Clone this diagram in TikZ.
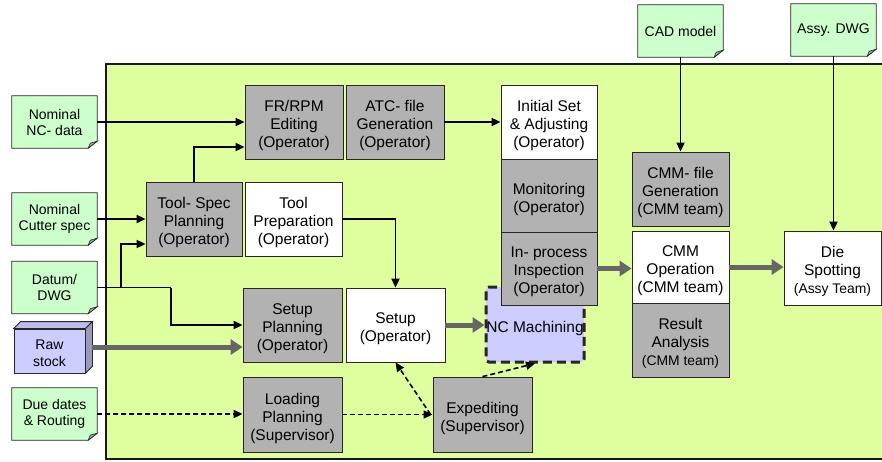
\documentclass[tikz,border=0pt]{standalone}
\usepackage{fontspec}
\setmainfont{Liberation Sans}
\usetikzlibrary{arrows.meta}

\definecolor{panel}{RGB}{223,255,159}
\definecolor{notegreen}{RGB}{204,255,204}
\definecolor{procgray}{RGB}{178,178,178}
\definecolor{lavender}{RGB}{204,204,255}
\definecolor{flowgray}{RGB}{102,102,102}

\newcommand\notefold[1]{%
  \draw[line width=0.8pt, draw=black!85, fill=notegreen]
    (#1.north west) -- (#1.north east) -- ([yshift=7pt]#1.south east)
    -- ([xshift=-9pt]#1.south east) -- (#1.south west) -- cycle;
  \draw[line width=0.6pt, draw=black!85, fill=notegreen!70!black]
    ([yshift=7pt]#1.south east) -- ([xshift=-7pt,yshift=5pt]#1.south east)
    -- ([xshift=-9pt]#1.south east) -- cycle;}

% a process box with its caption set slightly below the geometric centre
\newcommand\procnode[4][]{%
  \node[proc,#1] (#2) at #3 {};
  \node[proctext] (#2-text) at ([yshift=-3.5pt]#2.center) {#4};}

\tikzset{
  proc/.style={draw=black!85, line width=0.8pt, fill=procgray, inner sep=0pt,
    minimum width=97pt, minimum height=74pt},
  procw/.style={proc, fill=white},
  proctext/.style={inner sep=0pt, align=center,
    font=\fontsize{15.5}{18}\selectfont},
  notebox/.style={inner sep=0pt, align=center, minimum width=85pt,
    minimum height=52pt, font=\fontsize{14}{16}\selectfont},
  arr/.style={line width=1.8pt, -{Triangle[length=9pt,width=8pt]}},
  dasharr/.style={line width=1.6pt, dash pattern=on 5pt off 3pt,
    -{Triangle[length=9pt,width=8pt]}},
  bigarr/.style={line width=5pt, draw=flowgray,
    -{Triangle[length=12pt,width=15pt]}},
  conn/.style={line width=1.8pt},
}

\begin{document}
\begin{tikzpicture}[x=1pt,y=-1pt]
\useasboundingbox (0,0) rectangle (882,461);
\fill[white] (0,0) rectangle (882,461);

% working area
\draw[fill=panel, line width=1.2pt, draw=black!90] (106,64) rectangle (900,459);

% input documents
\node[notebox] (ncdata) at (54.5,122) {};
\node[notebox] (cutter) at (54.5,219) {};
\node[notebox] (datum) at (54.5,287.5) {};
\node[notebox] (due) at (54.5,414) {};
\node[notebox] (cad) at (680.5,31) {};
\node[notebox] (assy) at (833.5,30) {};
\notefold{ncdata}
\notefold{cutter}
\notefold{datum}
\notefold{due}
\notefold{cad}
\notefold{assy}
\node[notebox] (ncdatatext) at (ncdata) {Nominal\\NC- data};
\node[notebox] (cuttertext) at (cutter) {Nominal\\Cutter spec};
\node[notebox] (datumtext) at (datum) {Datum/\\DWG};
\node[notebox] (duetext) at (due) {Due dates\\\& Routing};
\node[notebox] (cadtext) at (cad) {CAD model};
\node[notebox] (assytext) at (assy) {Assy. DWG};

% raw stock block
\node[draw=black!85, line width=0.8pt, fill=lavender, inner sep=0pt,
  minimum width=71pt, minimum height=44pt] (raw) at (49.5,351) {};
\draw[line width=0.8pt, draw=black!85, fill=lavender!92!black]
  (raw.north west) -- ([xshift=7pt,yshift=7pt]raw.north west)
  -- ([xshift=7pt,yshift=7pt]raw.north east) -- (raw.north east) -- cycle;
\draw[line width=0.8pt, draw=black!85, fill=lavender!75!black]
  (raw.north east) -- ([xshift=7pt,yshift=7pt]raw.north east)
  -- ([xshift=7pt,yshift=7pt]raw.south east) -- (raw.south east) -- cycle;
\node[inner sep=0pt, align=center, font=\fontsize{14}{17}\selectfont]
  (rawtext) at ([yshift=-2pt]raw.center) {Raw\\stock};

% process boxes
\procnode[minimum width=98pt]{frrpm}{(294,122)}{FR/RPM\\Editing\\(Operator)}
\procnode[minimum width=98pt]{atc}{(395,122)}{ATC- file\\Generation\\(Operator)}
\procnode[minimum width=96pt]{toolspec}{(194,219)}{Tool- Spec\\Planning\\(Operator)}
\procnode[fill=white]{toolprep}{(293.5,219)}{Tool\\Preparation\\(Operator)}
\procnode[minimum width=99pt]{setupplan}{(292.5,325)}{Setup\\Planning\\(Operator)}
\procnode[fill=white, minimum width=99pt]{setup}{(395.5,325)}{Setup\\(Operator)}
\procnode[minimum width=99pt, minimum height=75pt]{loading}{(292.5,414.5)}
  {Loading\\Planning\\(Supervisor)}
\procnode[minimum width=99pt, minimum height=75pt]{expediting}{(482.5,414.5)}
  {Expediting\\(Supervisor)}
\procnode[fill=lavender, minimum width=98pt, minimum height=75pt,
  line width=3pt, dash pattern=on 9pt off 5pt, rounded corners=3pt]
  {ncm}{(535,324.5)}{NC Machining}
\procnode[fill=white, minimum width=96pt]{initial}{(549,122)}
  {Initial Set\\\& Adjusting\\(Operator)}
\procnode[minimum width=96pt, minimum height=73pt]{monitoring}{(549,195.5)}
  {Monitoring\\(Operator)}
\procnode[minimum width=96pt, minimum height=73pt]{inspection}{(549,268.5)}
  {In- process\\Inspection\\(Operator)}
\procnode{cmmfile}{(680.5,189)}{CMM- file\\Generation\\(CMM team)}
\procnode[fill=white, minimum height=72pt]{cmmop}{(680.5,267)}
  {CMM\\Operation\\(CMM team)}
\procnode{result}{(680.5,340)}
  {Result\\Analysis\\{\fontsize{13.9}{16}\selectfont (CMM team)}}
\procnode[fill=white]{die}{(832.5,268)}
  {Die\\Spotting\\{\fontsize{13.9}{16}\selectfont (Assy Team)}}

% information flow
\draw[arr] (ncdata.east) -- (ncdata.east -| frrpm.west);
\draw[arr] (toolspec.north) |- ([yshift=-25pt]frrpm.west);
\draw[arr] (cutter.east) -- (cutter.east -| toolspec.west);
\coordinate (dturn) at (171,287.5);
\coordinate (dsplit) at (121,287.5);
\draw[conn] (datum.east) -- (dturn);
\draw[arr] (dturn) |- (setupplan.west);
\draw[arr] (dsplit) |- ([yshift=-25pt]toolspec.west);
\draw[arr] (atc.east) -- (initial.west);
\draw[arr] (toolprep.east) -| (setup.north);
\draw[arr] (cad.south) -- (cmmfile.north);
\draw[arr] (assy.south) -- (assy.south |- die.north);

% planning flow
\draw[dasharr] (due.east) -- (due.east -| loading.west);
\draw[dasharr] (loading.east) -- (loading.east -| expediting.west);
\draw[dasharr] ([xshift=-2pt]expediting.west) -- (setup.south);
\draw[dasharr] (expediting.north) -- (ncm.south);

% material flow
\draw[bigarr] ([xshift=7pt,yshift=4pt]raw.east) -- ([yshift=-22pt]setupplan.west);
\draw[bigarr] (setup.east) -- (setup.east -| ncm.west);
\draw[bigarr] (inspection.east) -- (inspection.east -| cmmop.west);
\draw[bigarr] (cmmop.east) -- (cmmop.east -| die.west);
\end{tikzpicture}
\end{document}
